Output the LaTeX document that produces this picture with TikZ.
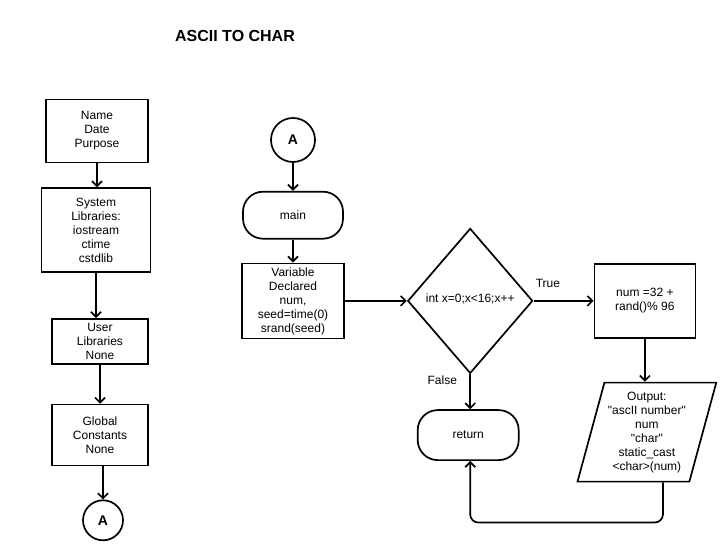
\documentclass[tikz,border=0pt]{standalone}
\usepackage{fontspec}
\setmainfont{Liberation Sans}
\usetikzlibrary{shapes.geometric, arrows.meta, positioning}

\tikzset{
  chartfont/.style={font=\fontsize{12}{14}\selectfont},
  process/.style={draw, line width=1.7pt, align=center, chartfont, inner sep=2pt},
  terminal/.style={process, rounded corners=20pt},
  decision/.style={process, diamond, inner sep=0pt},
  io/.style={process, trapezium, trapezium left angle=73, trapezium right angle=107,
    trapezium stretches=true},
  connector/.style={draw, circle, line width=1.7pt, inner sep=0pt,
    font=\bfseries\fontsize{14}{16}\selectfont},
  flow/.style={line width=1.7pt, -{Straight Barb[length=5pt, width=10pt]}},
  edgelabel/.style={chartfont, inner sep=1pt}
}

\begin{document}
\begin{tikzpicture}
  \useasboundingbox (0,0) rectangle (726pt,-553pt);

  % Title
  \node[font=\bfseries\fontsize{16}{19}\selectfont] (title) at (235pt,-36pt) {ASCII TO CHAR};

  %Define nodes (left column)
  \node[process, minimum width=102pt, minimum height=63pt] (namebox) at (97pt,-131pt) {Name\\Date\\Purpose};
  \node[process, minimum width=109pt, minimum height=84pt, below=24pt of namebox, xshift=-1pt] (syslib)
    {System\\Libraries:\\iostream\\ctime\\cstdlib};
  \node[process, minimum width=96pt, minimum height=45pt, below=45pt of syslib, xshift=4pt] (userlib)
    {User\\Libraries\\None};
  \node[process, minimum width=96pt, minimum height=61pt, below=39pt of userlib] (globconst)
    {Global\\Constants\\None};
  \node[connector, minimum size=40pt, below=33pt of globconst, xshift=3pt] (connA1) {A};

  %Define nodes (main)
  \node[connector, minimum size=44pt] (connA2) at (293pt,-140pt) {A};
  \node[terminal, minimum width=100pt, minimum height=47pt, below=28pt of connA2] (mainterm) {main};
  \node[process, minimum width=102pt, minimum height=75pt, below=23pt of mainterm] (vardecl)
    {Variable\\Declared\\num,\\seed=time(0)\\srand(seed)};
  \node[decision, minimum width=125pt, minimum height=145pt, right=62pt of vardecl] (loop)
    {\raisebox{5pt}{int x=0;x<16;x++}};
  \node[process, minimum width=101pt, minimum height=74pt, right=60pt of loop] (numbox)
    {num =32 +\\rand()\% 96};
  \node[io, minimum width=139pt, minimum height=99pt, below=43pt of numbox, xshift=2pt] (outbox)
    {Output:\\\textquotedbl ascII number\textquotedbl\\num\\\textquotedbl char\textquotedbl\\static\_cast\\<char>(num)};
  \node[terminal, minimum width=101pt, minimum height=50pt, below=35pt of loop, xshift=-2pt] (retterm) {return};

  % Labels
  \node[edgelabel, above right=12pt and 1pt of loop.east] (truelbl) {True};
  \node[edgelabel, below left=0pt and 12pt of loop.south] (falselbl) {False};

  % Connect the nodes
  \draw[flow] (namebox) -- (namebox |- syslib.north);
  \draw[flow] (syslib.south) -- (syslib.south |- userlib.north);
  \draw[flow] (userlib) -- (globconst);
  \draw[flow] (globconst.south -| connA1) -- (connA1);

  \draw[flow] (connA2) -- (mainterm);
  \draw[flow] (mainterm) -- (vardecl);
  \draw[flow] (vardecl) -- (loop);
  \draw[flow] (loop) -- (loop -| numbox.west);
  \draw[flow] (numbox.south) -- (numbox.south |- outbox.north);
  \draw[flow] (loop.south) -- (loop.south |- retterm.north);
  \draw[flow, rounded corners=8pt] ([xshift=16pt]outbox.south) -- ++(0,-40pt) -| (loop.south |- retterm.south);
\end{tikzpicture}
\end{document}
